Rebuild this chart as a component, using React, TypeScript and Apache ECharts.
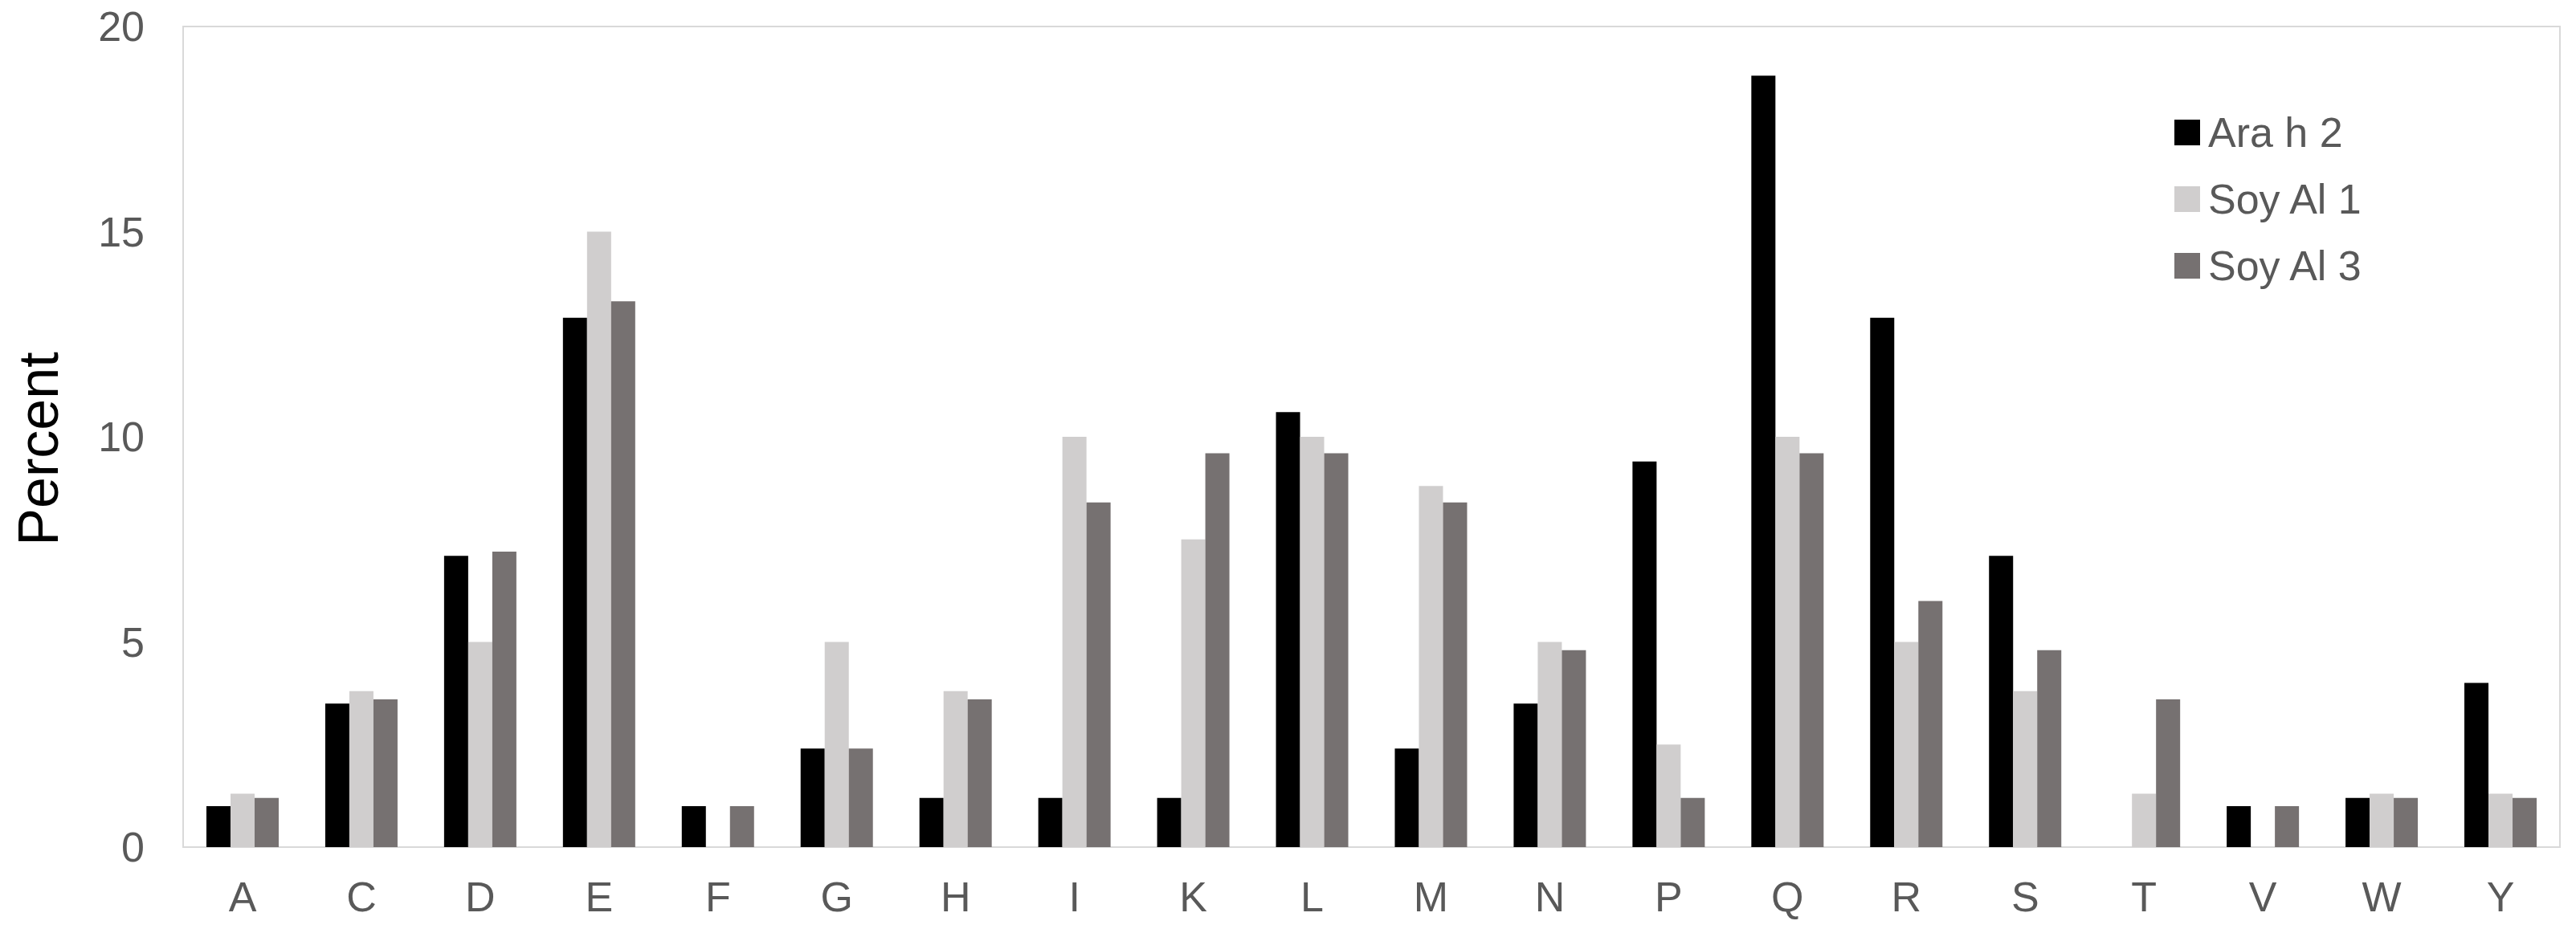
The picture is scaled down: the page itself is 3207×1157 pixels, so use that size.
import React, { useEffect, useRef } from "react";
import * as echarts from "echarts";

const categories = ["A", "C", "D", "E", "F", "G", "H", "I", "K", "L", "M", "N", "P", "Q", "R", "S", "T", "V", "W", "Y"];
const araH2 = [1.0, 3.5, 7.1, 12.9, 1.0, 2.4, 1.2, 1.2, 1.2, 10.6, 2.4, 3.5, 9.4, 18.8, 12.9, 7.1, 0, 1.0, 1.2, 4.0];
const soyAl1 = [1.3, 3.8, 5.0, 15.0, 0, 5.0, 3.8, 10.0, 7.5, 10.0, 8.8, 5.0, 2.5, 10.0, 5.0, 3.8, 1.3, 0, 1.3, 1.3];
const soyAl3 = [1.2, 3.6, 7.2, 13.3, 1.0, 2.4, 3.6, 8.4, 9.6, 9.6, 8.4, 4.8, 1.2, 9.6, 6.0, 4.8, 3.6, 1.0, 1.2, 1.2];
const seriesNames = ["Ara h 2", "Soy Al 1", "Soy Al 3"];
const yTicks = [0, 5, 10, 15, 20];

const FONT = "'Liberation Sans', Arial, sans-serif";

export default function App() {
  const ref = useRef<HTMLDivElement>(null);
  useEffect(() => {
    document.body.style.margin = "0";
    if (!ref.current) return;
    const chart = echarts.init(ref.current, null, { renderer: "svg" });
    const colors = ["#000000", "#D0CECE", "#767171"];
    const data = [araH2, soyAl1, soyAl3];
    chart.setOption({
      animation: false,
      backgroundColor: "#ffffff",
      textStyle: { fontFamily: FONT },
      grid: {
        left: 228,
        top: 33,
        right: 20,
        bottom: 102,
        show: true,
        borderColor: "#D9D9D9",
        borderWidth: 2,
      },
      legend: {
        orient: "vertical",
        left: 2707,
        top: 139,
        padding: 0,
        icon: "rect",
        itemWidth: 32,
        itemHeight: 32,
        itemGap: 31,
        data: seriesNames,
        textStyle: {
          fontFamily: FONT,
          fontSize: 52,
          lineHeight: 52,
          color: "#595959",
          padding: [0, 0, 0, 5],
        },
      },
      xAxis: {
        type: "category",
        data: categories,
        axisTick: { show: false },
        axisLine: { show: true, lineStyle: { color: "#D9D9D9", width: 2 } },
        axisLabel: { fontFamily: FONT, fontSize: 52, color: "#595959", margin: 36 },
        splitLine: { show: false },
      },
      yAxis: {
        type: "value",
        min: yTicks[0],
        max: yTicks[yTicks.length - 1],
        interval: yTicks[1] - yTicks[0],
        axisLine: { show: false },
        axisTick: { show: false },
        splitLine: { show: false },
        axisLabel: { fontFamily: FONT, fontSize: 52, color: "#595959", margin: 48 },
      },
      graphic: [
        {
          type: "text",
          x: 48,
          y: 559,
          rotation: Math.PI / 2,
          style: {
            text: "Percent",
            fontFamily: FONT,
            fontSize: 70,
            fill: "#000000",
            textAlign: "center",
            textVerticalAlign: "middle",
          },
        },
      ],
      series: seriesNames.map((name, i) => ({
        name,
        type: "bar",
        data: data[i],
        barWidth: 30,
        barGap: "0%",
        itemStyle: { color: colors[i] },
      })),
    });
    return () => chart.dispose();
  }, []);
  return <div ref={ref} style={{ width: 3207, height: 1157 }} />;
}
